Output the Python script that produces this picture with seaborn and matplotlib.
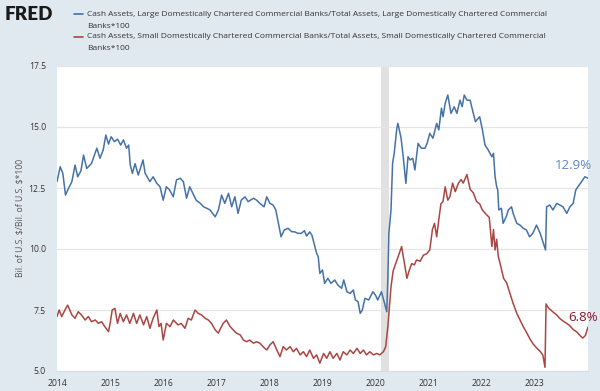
import numpy as np
import pandas as pd
import matplotlib
matplotlib.use("Agg")
import matplotlib.pyplot as plt
from matplotlib.lines import Line2D
import seaborn as sns

# ---------------- data (decimal years, percent) ----------------
large_t = [2014.00, 2014.06, 2014.11, 2014.16, 2014.22, 2014.28, 2014.34, 2014.39, 2014.45, 2014.50,
           2014.56, 2014.65, 2014.75, 2014.81, 2014.87, 2014.92, 2014.97, 2015.02, 2015.08, 2015.14,
           2015.20, 2015.25, 2015.31, 2015.35, 2015.38, 2015.42, 2015.47, 2015.53, 2015.62, 2015.66,
           2015.75, 2015.81, 2015.88, 2015.94, 2016.00, 2016.06, 2016.12, 2016.19, 2016.25, 2016.32,
           2016.38, 2016.44, 2016.50, 2016.56, 2016.62, 2016.70, 2016.76, 2016.82, 2016.88, 2016.98,
           2017.04, 2017.10, 2017.16, 2017.23, 2017.29, 2017.35, 2017.41, 2017.47, 2017.54, 2017.60,
           2017.70, 2017.76, 2017.82, 2017.90, 2017.95, 2018.01, 2018.07, 2018.12, 2018.17, 2018.22,
           2018.28, 2018.35, 2018.42, 2018.48, 2018.54, 2018.60, 2018.66, 2018.70, 2018.76, 2018.80,
           2018.84, 2018.89, 2018.92, 2018.95, 2019.00, 2019.04, 2019.10, 2019.16, 2019.23, 2019.29,
           2019.36, 2019.40, 2019.46, 2019.52, 2019.58, 2019.62, 2019.67, 2019.71, 2019.75, 2019.80,
           2019.87, 2019.95, 2020.00, 2020.04, 2020.11, 2020.16, 2020.21, 2020.23, 2020.25, 2020.29,
           2020.32, 2020.35, 2020.40, 2020.42, 2020.48, 2020.52, 2020.57, 2020.61, 2020.65, 2020.70,
           2020.74, 2020.80, 2020.86, 2020.93, 2020.97, 2021.02, 2021.08, 2021.15, 2021.19, 2021.24,
           2021.27, 2021.31, 2021.36, 2021.42, 2021.48, 2021.53, 2021.59, 2021.63, 2021.67, 2021.72,
           2021.78, 2021.84, 2021.88, 2021.96, 2022.01, 2022.06, 2022.12, 2022.19, 2022.22, 2022.25,
           2022.28, 2022.30, 2022.32, 2022.37, 2022.40, 2022.46, 2022.50, 2022.56, 2022.59, 2022.66,
           2022.72, 2022.78, 2022.84, 2022.90, 2022.96, 2023.03, 2023.10, 2023.16, 2023.20, 2023.22,
           2023.28, 2023.34, 2023.41, 2023.47, 2023.53, 2023.60, 2023.66, 2023.72, 2023.77, 2023.81,
           2023.88, 2023.94, 2024.00]
large_v = [12.76, 13.37, 13.10, 12.21, 12.50, 12.76, 13.44, 12.96, 13.20, 13.85,
           13.30, 13.51, 14.13, 13.72, 14.06, 14.67, 14.30, 14.60, 14.40, 14.50,
           14.26, 14.47, 14.13, 14.26, 13.44, 13.10, 13.50, 13.03, 13.65, 13.10,
           12.76, 12.96, 12.69, 12.55, 12.00, 12.55, 12.42, 12.14, 12.83, 12.90,
           12.76, 12.08, 12.55, 12.28, 12.00, 11.87, 11.73, 11.67, 11.60, 11.32,
           11.60, 12.21, 11.87, 12.28, 11.73, 12.14, 11.46, 12.00, 12.14, 11.94,
           12.08, 12.00, 11.87, 11.73, 12.14, 11.87, 11.80, 11.60, 11.05, 10.50,
           10.78, 10.85, 10.71, 10.70, 10.64, 10.64, 10.75, 10.53, 10.70, 10.57,
           10.23, 9.82, 9.68, 9.00, 9.14, 8.59, 8.80, 8.59, 8.73, 8.52,
           8.39, 8.73, 8.25, 8.18, 8.32, 7.91, 7.84, 7.36, 7.50, 7.98,
           7.91, 8.25, 8.10, 7.91, 8.25, 7.84, 7.43, 8.73, 10.64, 11.60,
           13.51, 13.92, 14.95, 15.15, 14.54, 13.78, 12.69, 13.78, 13.65, 13.72,
           13.24, 14.33, 14.13, 14.13, 14.33, 14.74, 14.54, 15.15, 14.88, 15.77,
           15.42, 15.97, 16.31, 15.56, 15.83, 15.56, 16.10, 15.83, 16.31, 16.10,
           16.10, 15.56, 15.22, 15.42, 14.90, 14.26, 14.06, 13.78, 13.92, 12.96,
           12.55, 12.42, 11.60, 11.67, 11.05, 11.32, 11.60, 11.73, 11.46, 11.05,
           10.98, 10.85, 10.78, 10.50, 10.64, 10.98, 10.64, 10.23, 9.96, 11.73,
           11.80, 11.60, 11.87, 11.80, 11.73, 11.46, 11.73, 11.87, 12.42, 12.55,
           12.76, 12.96, 12.90]

small_t = [2014.00, 2014.04, 2014.09, 2014.15, 2014.20, 2014.28, 2014.34, 2014.40, 2014.46, 2014.53,
           2014.59, 2014.65, 2014.72, 2014.78, 2014.84, 2014.90, 2014.97, 2015.00, 2015.04, 2015.09,
           2015.14, 2015.19, 2015.25, 2015.31, 2015.37, 2015.44, 2015.50, 2015.56, 2015.63, 2015.69,
           2015.75, 2015.81, 2015.88, 2015.92, 2015.96, 2016.00, 2016.06, 2016.13, 2016.19, 2016.28,
           2016.34, 2016.41, 2016.47, 2016.53, 2016.60, 2016.66, 2016.72, 2016.79, 2016.85, 2016.91,
           2016.98, 2017.04, 2017.08, 2017.13, 2017.19, 2017.26, 2017.32, 2017.38, 2017.45, 2017.51,
           2017.57, 2017.63, 2017.70, 2017.76, 2017.82, 2017.88, 2017.95, 2018.01, 2018.07, 2018.14,
           2018.20, 2018.26, 2018.32, 2018.39, 2018.45, 2018.51, 2018.58, 2018.64, 2018.70, 2018.76,
           2018.83, 2018.89, 2018.95, 2019.02, 2019.08, 2019.14, 2019.20, 2019.27, 2019.33, 2019.39,
           2019.46, 2019.52, 2019.58, 2019.65, 2019.71, 2019.77, 2019.83, 2019.89, 2019.96, 2020.02,
           2020.08, 2020.15, 2020.19, 2020.23, 2020.26, 2020.29, 2020.33, 2020.37, 2020.40, 2020.44,
           2020.49, 2020.54, 2020.59, 2020.63, 2020.68, 2020.73, 2020.77, 2020.84, 2020.90, 2020.96,
           2021.02, 2021.07, 2021.11, 2021.15, 2021.19, 2021.23, 2021.27, 2021.31, 2021.36, 2021.40,
           2021.45, 2021.50, 2021.56, 2021.61, 2021.65, 2021.72, 2021.78, 2021.84, 2021.90, 2021.96,
           2022.01, 2022.09, 2022.14, 2022.19, 2022.22, 2022.25, 2022.28, 2022.31, 2022.36, 2022.41,
           2022.47, 2022.53, 2022.59, 2022.66, 2022.72, 2022.78, 2022.85, 2022.91, 2022.97, 2023.03,
           2023.10, 2023.15, 2023.19, 2023.21, 2023.25, 2023.30, 2023.35, 2023.41, 2023.47, 2023.53,
           2023.60, 2023.66, 2023.72, 2023.79, 2023.85, 2023.90, 2023.95, 2024.00]
small_v = [7.23, 7.50, 7.23, 7.50, 7.70, 7.30, 7.16, 7.43, 7.30, 7.09,
           7.23, 7.02, 7.09, 6.95, 7.02, 6.82, 6.61, 6.95, 7.50, 7.57,
           6.95, 7.36, 7.02, 7.30, 6.95, 7.36, 6.95, 7.30, 6.89, 7.23,
           6.75, 7.16, 7.50, 6.82, 6.95, 6.27, 6.95, 6.82, 7.09, 6.89,
           6.95, 6.75, 7.16, 7.09, 7.50, 7.36, 7.30, 7.16, 7.09, 6.95,
           6.68, 6.55, 6.75, 6.95, 7.09, 6.82, 6.68, 6.55, 6.48, 6.27,
           6.20, 6.27, 6.14, 6.20, 6.14, 6.00, 5.86, 6.07, 6.20, 5.86,
           5.59, 6.00, 5.86, 6.00, 5.79, 5.93, 5.66, 5.79, 5.59, 5.86,
           5.52, 5.66, 5.32, 5.72, 5.52, 5.79, 5.52, 5.72, 5.45, 5.79,
           5.66, 5.86, 5.72, 5.93, 5.72, 5.86, 5.66, 5.79, 5.66, 5.72,
           5.66, 5.80, 6.00, 6.80, 7.60, 8.45, 9.10, 9.35, 9.55, 9.80,
           10.10, 9.45, 8.80, 9.10, 9.40, 9.35, 9.55, 9.50, 9.75, 9.80,
           9.96, 10.80, 11.05, 10.50, 11.20, 11.85, 11.95, 12.55, 12.00, 12.15,
           12.70, 12.35, 12.70, 12.85, 12.70, 13.05, 12.45, 12.30, 11.95, 11.85,
           11.60, 11.40, 11.30, 10.10, 10.80, 9.96, 10.40, 9.70, 9.27, 8.80,
           8.60, 8.18, 7.77, 7.36, 7.09, 6.82, 6.55, 6.30, 6.10, 5.95,
           5.80, 5.65, 5.15, 7.75, 7.60, 7.50, 7.40, 7.30, 7.15, 7.05,
           6.95, 6.85, 6.70, 6.60, 6.45, 6.35, 6.45, 6.80]

series_names = [
    "Cash Assets, Large Domestically Chartered Commercial Banks/Total Assets, Large Domestically Chartered Commercial Banks*100",
    "Cash Assets, Small Domestically Chartered Commercial Banks/Total Assets, Small Domestically Chartered Commercial Banks*100",
]
legend_lines = [
    ["Cash Assets, Large Domestically Chartered Commercial Banks/Total Assets, Large Domestically Chartered Commercial", "Banks*100"],
    ["Cash Assets, Small Domestically Chartered Commercial Banks/Total Assets, Small Domestically Chartered Commercial", "Banks*100"],
]
year_ticks = [2014, 2015, 2016, 2017, 2018, 2019, 2020, 2021, 2022, 2023]
y_ticks = [5.0, 7.5, 10.0, 12.5, 15.0, 17.5]
recession = (2020.10, 2020.26)
y_label = r"Bil. of U.S. \$/Bil. of U.S. \$*100"

# ---------------- styling ----------------
BG = "#e1e9f0"
BLUE = "#4572a7"
RED = "#aa4643"
TXT = "#333333"

sns.set_theme(style="white")
plt.rcParams["font.family"] = ["Open Sans", "DejaVu Sans"]

df = pd.concat([
    pd.DataFrame({"t": large_t, "v": large_v, "series": series_names[0]}),
    pd.DataFrame({"t": small_t, "v": small_v, "series": series_names[1]}),
], ignore_index=True)

W, H = 600, 391
fig = plt.figure(figsize=(W / 100, H / 100), dpi=100, facecolor=BG)
ax = fig.add_axes([57 / W, 20 / H, 531 / W, 305 / H])
ax.set_facecolor("white")

ax.axvspan(*recession, color="#e1e1e1", lw=0, zorder=0)
sns.lineplot(data=df, x="t", y="v", hue="series", palette=[BLUE, RED],
             estimator=None, legend=False, linewidth=1.1, ax=ax, zorder=3)

ax.set_xlim(2014.0, 2024.0)
ax.set_ylim(5.0, 17.5)
ax.set_yticks(y_ticks)
ax.set_yticklabels([f"{v:.1f}" for v in y_ticks])
ax.set_xticks(year_ticks)
ax.set_xticklabels([str(y) for y in year_ticks])
ax.set_xlabel("")
ax.set_ylabel("")
ax.yaxis.grid(True, color="#e6e6e6", lw=0.9, zorder=1)
ax.xaxis.grid(False)
for s in ["top", "right", "left"]:
    ax.spines[s].set_visible(False)
ax.spines["bottom"].set_color("#d8dde3")
ax.spines["bottom"].set_linewidth(0.8)
ax.tick_params(axis="y", length=0, labelsize=6.2, labelcolor=TXT, pad=8)
ax.tick_params(axis="x", length=3, color="#ccd6e0", labelsize=6.2, labelcolor=TXT, pad=3)

# end-value labels
ax.annotate(f"{large_v[-1]:.1f}%", xy=(large_t[-1], large_v[-1]), xycoords="data",
            xytext=(4, 13), textcoords="offset pixels", ha="right", va="center",
            fontsize=9.5, color="#5f86bd", annotation_clip=False, zorder=5)
ax.annotate(f"{small_v[-1]:.1f}%", xy=(small_t[-1], small_v[-1]), xycoords="data",
            xytext=(10, 10), textcoords="offset pixels", ha="right", va="center",
            fontsize=9.5, color="#8b1326", annotation_clip=False, zorder=5)

# y label
fig.text(20 / W, 1 - 218 / H, y_label, rotation=90, ha="center", va="center",
         fontsize=6.2, color="#555555")

# FRED logo text
fig.text(5 / W, 1 - 15 / H, "FRED", ha="left", va="center", fontsize=13.5,
         fontweight="heavy", color="#1a1a1a", family=["Lato", "DejaVu Sans"])

# legend
ys = [(14, 26), (37, 49)]
for (y1, y2), lines, col in zip(ys, legend_lines, [BLUE, RED]):
    fig.add_artist(Line2D([74 / W, 83 / W], [1 - y1 / H, 1 - y1 / H], color=col, lw=1.2,
                          transform=fig.transFigure))
    fig.text(87 / W, 1 - y1 / H, lines[0], ha="left", va="center", fontsize=6.05, color=TXT)
    fig.text(87 / W, 1 - y2 / H, lines[1], ha="left", va="center", fontsize=6.05, color=TXT)

fig.savefig("out.png", dpi=100, facecolor=BG)
